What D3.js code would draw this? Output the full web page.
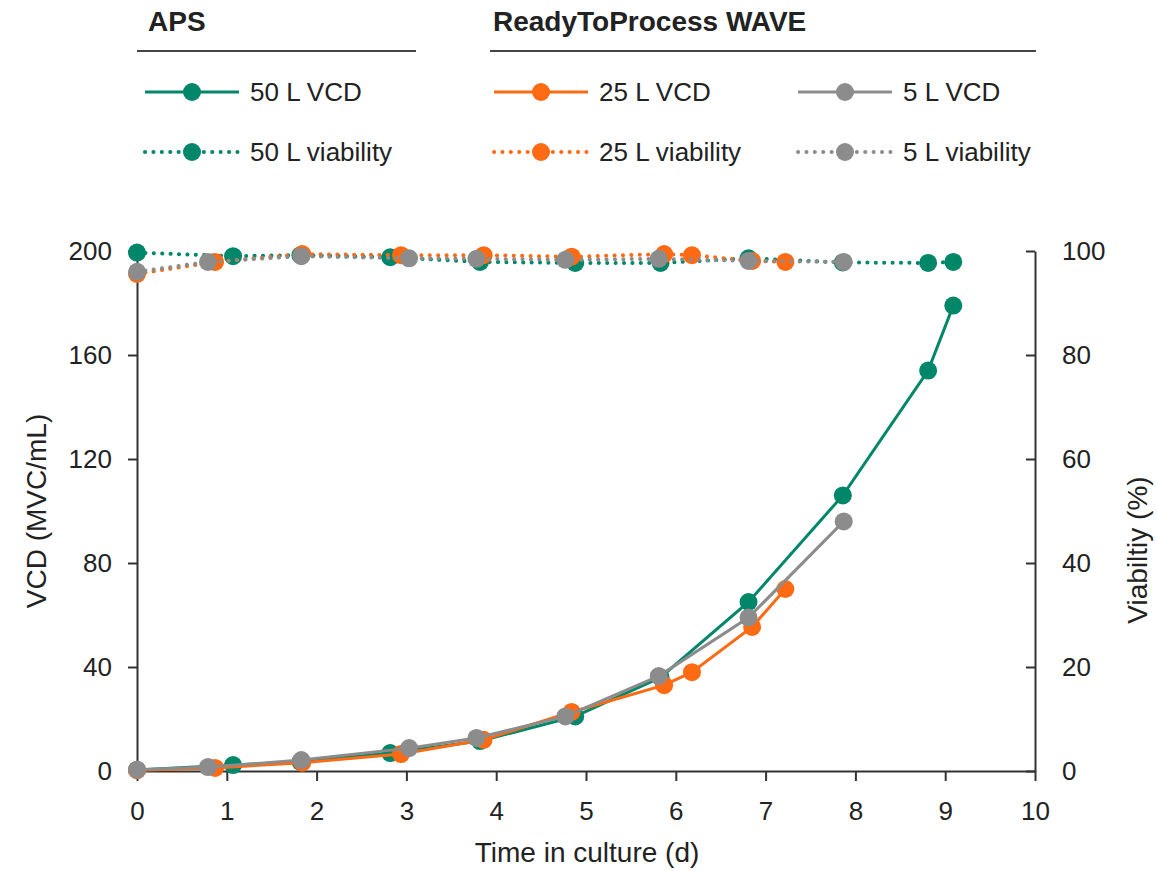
<!DOCTYPE html>
<html><head><meta charset="utf-8">
<script src="https://cdn.jsdelivr.net/npm/d3@7/dist/d3.min.js"></script>
<style>
body{margin:0;background:#fff;}
svg text{font-family:"Liberation Sans", Arial, sans-serif;fill:#222;}
</style></head>
<body><svg id="c" width="1157" height="871"></svg>
<script>
// ---- data ----
const days50 = [0, 1.07, 1.82, 2.82, 3.82, 4.88, 5.83, 6.81, 7.86, 8.81, 9.09];
const vcd50  = [0.4, 2.3, 3.5, 6.9, 11.5, 21, 36, 65, 106, 154, 179];
const via50  = [99.7, 99.0, 99.2, 98.8, 97.9, 97.7, 97.7, 98.6, 97.8, 97.7, 97.9];

const days25 = [0, 0.87, 1.84, 2.94, 3.86, 4.84, 5.87, 6.18, 6.85, 7.22];
const vcd25  = [0.3, 1.2, 3.2, 6.5, 12, 22.7, 33, 38, 55.4, 70];
const via25  = [95.6, 97.9, 99.4, 99.2, 99.2, 98.9, 99.4, 99.2, 98.1, 97.9];

const days5 = [0, 0.79, 1.83, 3.03, 3.78, 4.77, 5.81, 6.81, 7.87];
const vcd5  = [0.5, 1.5, 4.2, 8.8, 12.7, 21, 36.5, 59, 96];
const via5  = [96.0, 97.9, 99.0, 98.6, 98.5, 98.3, 98.5, 98.1, 97.9];

const xTicks = [0,1,2,3,4,5,6,7,8,9,10];
const yLeftTicks = [0,40,80,120,160,200];
const yRightTicks = [0,20,40,60,80,100];

const groupTitles = ["APS", "ReadyToProcess WAVE"];
const seriesNames = ["50 L", "25 L", "5 L"];
const colors = ["#00876a", "#ff6a13", "#8c8c8c"];

// ---- layout ----
const svg = d3.select("#c");
const x = d3.scaleLinear().domain([0,10]).range([137,1035]);
const yL = d3.scaleLinear().domain([0,200]).range([771,251]);
const yR = d3.scaleLinear().domain([0,100]).range([771,251]);

const series = [
  {name: seriesNames[0], color: colors[0], days: days50, vcd: vcd50, via: via50},
  {name: seriesNames[1], color: colors[1], days: days25, vcd: vcd25, via: via25},
  {name: seriesNames[2], color: colors[2], days: days5, vcd: vcd5, via: via5}
];

const TICK_FS = 26;
const axisStyle = g => {
  g.selectAll("path,line").attr("stroke","#333").attr("stroke-width",2);
  g.selectAll("text").attr("font-size",TICK_FS).attr("fill","#222");
};
svg.append("g").attr("transform","translate(0,771)")
  .call(d3.axisBottom(x).tickValues(xTicks).tickSize(10).tickSizeOuter(0).tickPadding(21))
  .call(axisStyle);
svg.append("g").attr("transform","translate(137,0)")
  .call(d3.axisLeft(yL).tickValues(yLeftTicks).tickSize(9).tickSizeOuter(0).tickPadding(16))
  .call(axisStyle);
const gr = svg.append("g").attr("transform","translate(1035,0)")
  .call(d3.axisRight(yR).tickValues(yRightTicks).tickSize(0).tickSizeOuter(0).tickPadding(27))
  .call(axisStyle);
gr.selectAll(".tick").append("line").attr("x1",-9).attr("x2",0).attr("stroke","#333").attr("stroke-width",2);

svg.append("text").attr("x",587).attr("y",862).attr("text-anchor","middle").attr("font-size",28).text("Time in culture (d)");
svg.append("text").attr("transform","translate(46,511) rotate(-90)").attr("text-anchor","middle").attr("font-size",28).text("VCD (MVC/mL)");
svg.append("text").attr("transform","translate(1147,550) rotate(-90)").attr("text-anchor","middle").attr("font-size",28).text("Viabiltiy (%)");

// series
const R = 9;
const DOTS = "0.1 8.3";
series.forEach(s => {
  const pts = s.days.map((d,i)=>({d, v:s.via[i]}));
  svg.append("path").datum(pts)
    .attr("d", d3.line().x(p=>x(p.d)).y(p=>yR(p.v)))
    .attr("fill","none").attr("stroke",s.color).attr("stroke-width",4)
    .attr("stroke-dasharray",DOTS).attr("stroke-linecap","round");
  svg.append("g").selectAll("circle").data(pts).join("circle")
    .attr("cx",p=>x(p.d)).attr("cy",p=>yR(p.v)).attr("r",R).attr("fill",s.color);
});
series.forEach(s => {
  const pts = s.days.map((d,i)=>({d, v:s.vcd[i]}));
  svg.append("path").datum(pts)
    .attr("d", d3.line().x(p=>x(p.d)).y(p=>yL(p.v)))
    .attr("fill","none").attr("stroke",s.color).attr("stroke-width",3);
  svg.append("g").selectAll("circle").data(pts).join("circle")
    .attr("cx",p=>x(p.d)).attr("cy",p=>yL(p.v)).attr("r",R).attr("fill",s.color);
});

// legend
const titlePos = [{x:148, x1:137, x2:416}, {x:493, x1:490, x2:1036}];
groupTitles.forEach((t,i)=>{
  svg.append("text").attr("x",titlePos[i].x).attr("y",31).attr("font-size",28).attr("font-weight","bold").text(t);
  svg.append("line").attr("x1",titlePos[i].x1).attr("x2",titlePos[i].x2).attr("y1",51).attr("y2",51)
    .attr("stroke","#444").attr("stroke-width",2);
});
const legX = [145, 494, 798];
series.forEach((s,i)=>{
  const lx = legX[i];
  [["VCD",92,false],["viability",152,true]].forEach(([lab,ly,dotted])=>{
    const ln = svg.append("line").attr("x1",lx).attr("x2",lx+94).attr("y1",ly).attr("y2",ly)
      .attr("stroke",s.color).attr("stroke-width",dotted?4:3);
    if(dotted) ln.attr("stroke-dasharray",DOTS).attr("stroke-linecap","round");
    svg.append("circle").attr("cx",lx+47).attr("cy",ly).attr("r",R).attr("fill",s.color);
    svg.append("text").attr("x",lx+105).attr("y",ly+9).attr("font-size",26).text(s.name+" "+lab);
  });
});
</script></body></html>
